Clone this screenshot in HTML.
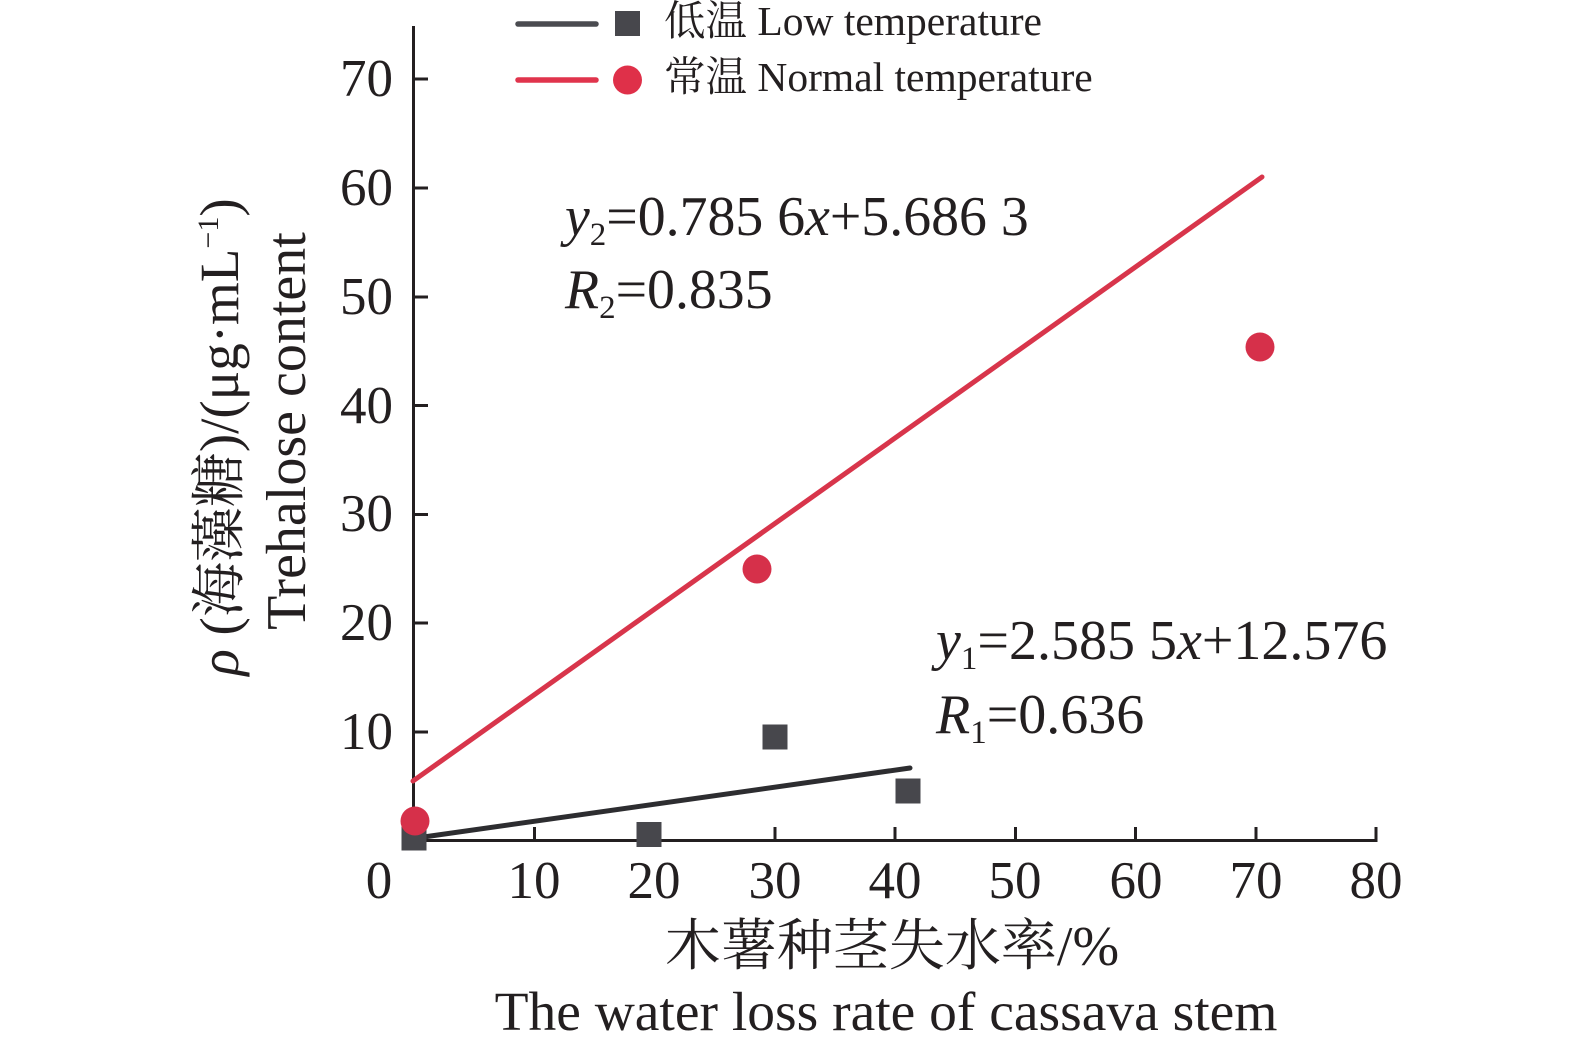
<!DOCTYPE html>
<html>
<head>
<meta charset="utf-8">
<style>
  html, body { margin: 0; padding: 0; background: #ffffff; }
  svg { display: block; }
  text { font-family: "Liberation Serif", "Noto Serif CJK SC", serif; fill: #231f20; }
</style>
</head>
<body>
<svg width="1575" height="1053" viewBox="0 0 1575 1053" xmlns="http://www.w3.org/2000/svg">
  <rect x="0" y="0" width="1575" height="1053" fill="#ffffff"/>

  <!-- Axes -->
  <g stroke="#231f20" stroke-width="3" fill="none">
    <line x1="413.5" y1="26" x2="413.5" y2="842"/>
    <line x1="412" y1="840.5" x2="1377.5" y2="840.5"/>
    <!-- y ticks -->
    <line x1="413" y1="79" x2="428" y2="79"/>
    <line x1="413" y1="188" x2="428" y2="188"/>
    <line x1="413" y1="297" x2="428" y2="297"/>
    <line x1="413" y1="405.5" x2="428" y2="405.5"/>
    <line x1="413" y1="514.5" x2="428" y2="514.5"/>
    <line x1="413" y1="623" x2="428" y2="623"/>
    <line x1="413" y1="732" x2="428" y2="732"/>
    <!-- x ticks -->
    <line x1="534.5" y1="841" x2="534.5" y2="827"/>
    <line x1="654.5" y1="841" x2="654.5" y2="827"/>
    <line x1="775" y1="841" x2="775" y2="827"/>
    <line x1="895" y1="841" x2="895" y2="827"/>
    <line x1="1015.5" y1="841" x2="1015.5" y2="827"/>
    <line x1="1135.5" y1="841" x2="1135.5" y2="827"/>
    <line x1="1256" y1="841" x2="1256" y2="827"/>
    <line x1="1376" y1="841" x2="1376" y2="827"/>
  </g>

  <!-- Y tick labels -->
  <g font-size="53" text-anchor="end">
    <text x="393" y="96">70</text>
    <text x="393" y="205">60</text>
    <text x="393" y="314">50</text>
    <text x="393" y="423">40</text>
    <text x="393" y="531">30</text>
    <text x="393" y="640">20</text>
    <text x="393" y="749">10</text>
  </g>

  <!-- X tick labels -->
  <g font-size="53" text-anchor="middle">
    <text x="379" y="898">0</text>
    <text x="534" y="898">10</text>
    <text x="654" y="898">20</text>
    <text x="775" y="898">30</text>
    <text x="895" y="898">40</text>
    <text x="1015" y="898">50</text>
    <text x="1136" y="898">60</text>
    <text x="1256" y="898">70</text>
    <text x="1376" y="898">80</text>
  </g>

  <!-- Regression lines -->
  <line x1="413" y1="781" x2="1262" y2="177" stroke="#d8354b" stroke-width="5" stroke-linecap="round"/>
  <line x1="413" y1="838.5" x2="910" y2="768" stroke="#2d2d30" stroke-width="5" stroke-linecap="round"/>

  <!-- Low temperature squares -->
  <g fill="#47474c">
    <rect x="401.5" y="825.5" width="25" height="25"/>
    <rect x="636.5" y="822" width="25" height="25"/>
    <rect x="762.5" y="724.5" width="25" height="25"/>
    <rect x="895.5" y="778.5" width="25" height="25"/>
  </g>

  <!-- Normal temperature circles -->
  <g fill="#d6304a">
    <circle cx="415" cy="821" r="14.5"/>
    <circle cx="757" cy="569" r="14.5"/>
    <circle cx="1260" cy="347" r="14.5"/>
  </g>

  <!-- Legend -->
  <line x1="518" y1="24" x2="596" y2="24" stroke="#4a4b50" stroke-width="5.5" stroke-linecap="round"/>
  <rect x="615" y="11" width="25" height="25" fill="#47474c"/>
  <text x="664" y="35" font-size="41.5">低温 Low temperature</text>

  <line x1="518" y1="80" x2="596" y2="80" stroke="#e0344c" stroke-width="5.5" stroke-linecap="round"/>
  <circle cx="627.5" cy="80" r="14.5" fill="#df3049"/>
  <text x="664" y="91" font-size="41.5">常温 Normal temperature</text>

  <!-- Equation for normal temperature -->
  <text x="565" y="235" font-size="55.8"><tspan font-style="italic">y</tspan><tspan font-size="33" dy="10">2</tspan><tspan dy="-10">=0.785 6</tspan><tspan font-style="italic">x</tspan><tspan>+5.686 3</tspan></text>
  <text x="565" y="308" font-size="55.8"><tspan font-style="italic">R</tspan><tspan font-size="33" dy="10">2</tspan><tspan dy="-10">=0.835</tspan></text>

  <!-- Equation for low temperature -->
  <text x="936" y="659" font-size="56"><tspan font-style="italic">y</tspan><tspan font-size="33" dy="10">1</tspan><tspan dy="-10">=2.585 5</tspan><tspan font-style="italic">x</tspan><tspan>+12.576</tspan></text>
  <text x="936" y="733" font-size="56"><tspan font-style="italic">R</tspan><tspan font-size="33" dy="10">1</tspan><tspan dy="-10">=0.636</tspan></text>

  <!-- X axis titles -->
  <text x="892" y="965" font-size="56" text-anchor="middle">木薯种茎失水率/%</text>
  <text x="886" y="1030" font-size="55.5" text-anchor="middle">The water loss rate of cassava stem</text>

  <!-- Y axis titles (rotated) -->
  <text transform="translate(238,437) rotate(-90)" font-size="55" text-anchor="middle"><tspan font-style="italic">ρ</tspan> (海藻糖)/(μg·mL<tspan font-size="30" dy="-20">−1</tspan><tspan dy="20">)</tspan></text>
  <text transform="translate(305,431) rotate(-90)" font-size="56" text-anchor="middle">Trehalose content</text>
</svg>
</body>
</html>
